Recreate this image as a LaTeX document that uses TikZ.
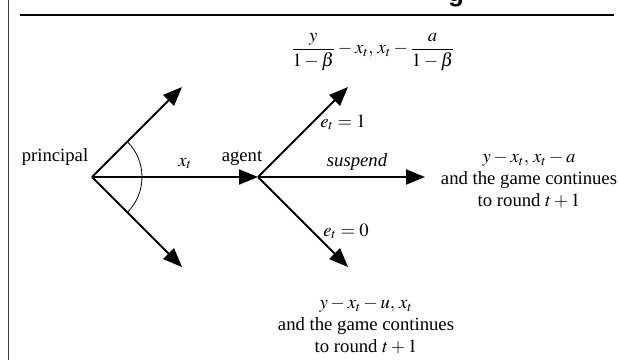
\documentclass[tikz,border=0pt]{standalone}
\usepackage{amsmath}
\usepackage{mathptmx}
\usepackage{fontspec}
\setmainfont{Liberation Serif}
\newfontfamily\titlefont{Liberation Sans}
\usetikzlibrary{arrows.meta}
\begin{document}
\begin{tikzpicture}[x=1pt,y=1pt,
  lbl/.style={font=\fontsize{18.7}{22}\selectfont, inner sep=0pt},
  arr/.style={line width=2pt, -{Triangle[length=19pt,width=15pt]}},
]
\useasboundingbox (0,0) rectangle (618,360);
\draw[black!75, line width=1pt] (8,0) -- (8,360);
\draw[line width=2pt] (20,345) -- (614,345);
\begin{scope}
\clip (0,0) rectangle (618,360);
\node[font=\titlefont\bfseries\fontsize{26}{30}\selectfont, anchor=base, inner sep=0pt] (title) at (456,358.5) {g};
\end{scope}

% vertices and arrow ends
\coordinate (P) at (92,183);
\coordinate (PU) at (182,273);
\coordinate (PD) at (182,93);
\coordinate (A) at (258,183);
\coordinate (AU) at (348,273);
\coordinate (AS) at (425,183);
\coordinate (AD) at (348,93);

\draw[arr] (P) -- (PU);
\draw[arr] (P) -- (PD);
\draw[arr] (P) -- (A);
\draw[arr] (A) -- (AU);
\draw[arr] (A) -- (AS);
\draw[arr] (A) -- (AD);
\draw[line width=0.8pt] ([shift={(45:50)}]P) arc[start angle=45, end angle=-45, radius=50];

% labels
\node[lbl, anchor=base] (principal) at (55,199) {principal};
\node[lbl, anchor=base] (agent) at (242,199) {agent};
\node[lbl, anchor=base] (xt) at (185,194) {$x_t$};
\node[lbl, anchor=base] (e1) at (343,233) {$e_t = 1$};
\node[lbl, anchor=base] (susp) at (357,194) {\itshape suspend};
\node[lbl, anchor=base] (e0) at (346,124) {$e_t = 0$};
\node[lbl] (top) at (373,308) {$\dfrac{y}{1-\beta} - x_t,\, x_t - \dfrac{a}{1-\beta}$};
\node[lbl, align=center] (right) at (529,180) {$y - x_t,\, x_t - a$\\and the game continues\\to round $t+1$};
\node[lbl, align=center] (bottom) at (366,34) {$y - x_t - u,\, x_t$\\and the game continues\\to round $t+1$};
\end{tikzpicture}
\end{document}
